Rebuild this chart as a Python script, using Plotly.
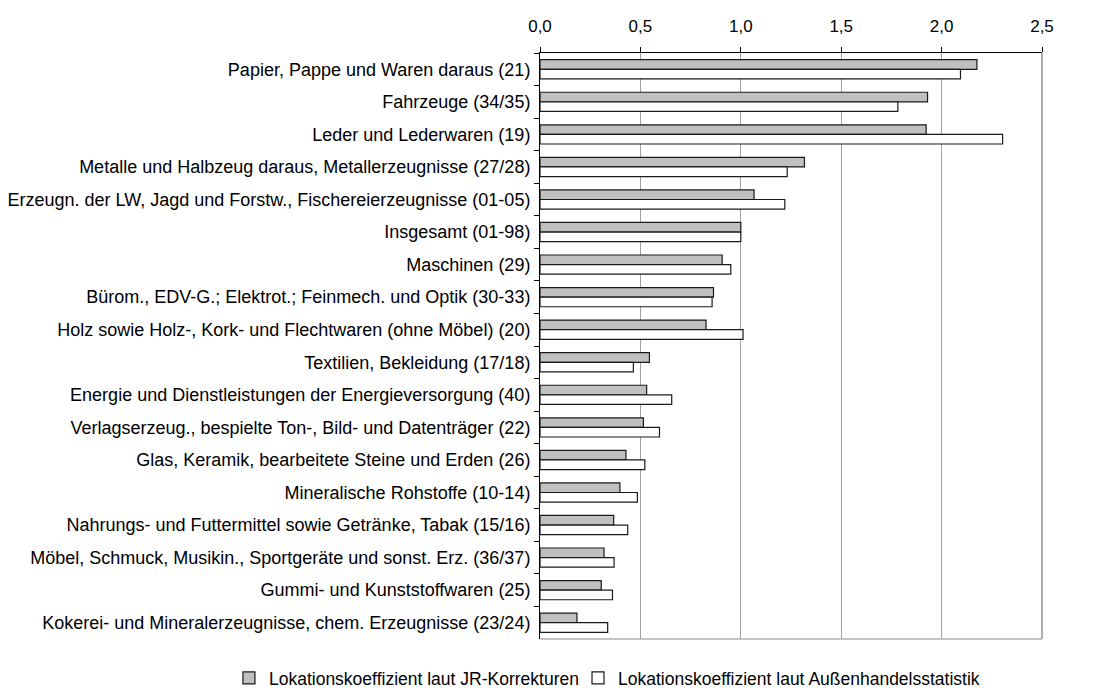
import plotly.graph_objects as go

categories = [
    "Papier, Pappe und Waren daraus (21)",
    "Fahrzeuge (34/35)",
    "Leder und Lederwaren (19)",
    "Metalle und Halbzeug daraus, Metallerzeugnisse (27/28)",
    "Erzeugn. der LW, Jagd und Forstw., Fischereierzeugnisse (01-05)",
    "Insgesamt (01-98)",
    "Maschinen (29)",
    "Bürom., EDV-G.; Elektrot.; Feinmech. und Optik (30-33)",
    "Holz sowie Holz-, Kork- und Flechtwaren (ohne Möbel) (20)",
    "Textilien, Bekleidung (17/18)",
    "Energie und Dienstleistungen der Energieversorgung (40)",
    "Verlagserzeug., bespielte Ton-, Bild- und Datenträger (22)",
    "Glas, Keramik, bearbeitete Steine und Erden (26)",
    "Mineralische Rohstoffe (10-14)",
    "Nahrungs- und Futtermittel sowie Getränke, Tabak (15/16)",
    "Möbel, Schmuck, Musikin., Sportgeräte und sonst. Erz. (36/37)",
    "Gummi- und Kunststoffwaren (25)",
    "Kokerei- und Mineralerzeugnisse, chem. Erzeugnisse (23/24)",
]

jr_korrekturen = [2.176, 1.930, 1.923, 1.317, 1.066, 1.000, 0.907, 0.864, 0.827,
                  0.545, 0.531, 0.515, 0.428, 0.398, 0.367, 0.319, 0.305, 0.184]
aussenhandel = [2.094, 1.782, 2.304, 1.231, 1.219, 1.000, 0.950, 0.857, 1.011,
                0.465, 0.656, 0.595, 0.522, 0.485, 0.437, 0.369, 0.361, 0.337]

series_names = ["Lokationskoeffizient laut JR-Korrekturen",
                "Lokationskoeffizient laut Außenhandelsstatistik"]

tick_vals = [0.0, 0.5, 1.0, 1.5, 2.0, 2.5]

font_family = "Liberation Sans, Arial, sans-serif"

fig = go.Figure()
fig.add_trace(go.Bar(
    y=categories, x=jr_korrekturen, orientation="h", name=series_names[0],
    marker=dict(color="#c0c0c0", line=dict(color="#1a1a1a", width=1.2)),
    legend="legend",
))
fig.add_trace(go.Bar(
    y=categories, x=aussenhandel, orientation="h", name=series_names[1],
    marker=dict(color="#ffffff", line=dict(color="#1a1a1a", width=1.2)),
    legend="legend2",
))

legend_common = dict(orientation="h", xref="container", yref="container",
                     xanchor="left", y=0.0304, yanchor="middle",
                     font=dict(size=17.5), itemwidth=30, bgcolor="rgba(0,0,0,0)")

fig.update_layout(
    width=1112, height=691,
    margin=dict(l=532, r=78, t=45, b=60),
    paper_bgcolor="white", plot_bgcolor="white",
    barmode="group", bargap=0.41, bargroupgap=0.0,
    separators=",.",
    font=dict(family=font_family, size=18, color="#000000"),
    showlegend=True,
    legend=dict(x=0.1987, **legend_common),
    legend2=dict(x=0.5126, **legend_common),
    xaxis=dict(
        side="top", range=[0, 2.5], tickvals=tick_vals, tickformat=".1f",
        showgrid=True, gridcolor="#a0a0a0", gridwidth=1,
        showline=True, linecolor="#000000", linewidth=1,
        ticks="outside", ticklen=5, tickcolor="#000000",
        mirror=False, zeroline=False, fixedrange=True, automargin=False,
        tickfont=dict(size=17), ticklabelstandoff=8,
    ),
    yaxis=dict(
        autorange="reversed", showline=True, linecolor="#000000", linewidth=1,
        ticks="outside", ticklen=5, tickcolor="#000000", tickson="boundaries",
        showgrid=False, tickfont=dict(size=18), ticklabelstandoff=5,
        automargin=False, fixedrange=True,
    ),
)

# right and bottom border of plot area
fig.add_shape(type="line", xref="paper", yref="paper", x0=1, x1=1, y0=0, y1=1,
              line=dict(color="#909090", width=1.5))
fig.add_shape(type="line", xref="paper", yref="paper", x0=0, x1=1, y0=0, y1=0,
              line=dict(color="#b0b0b0", width=1.5))

fig.write_html("out.html")
